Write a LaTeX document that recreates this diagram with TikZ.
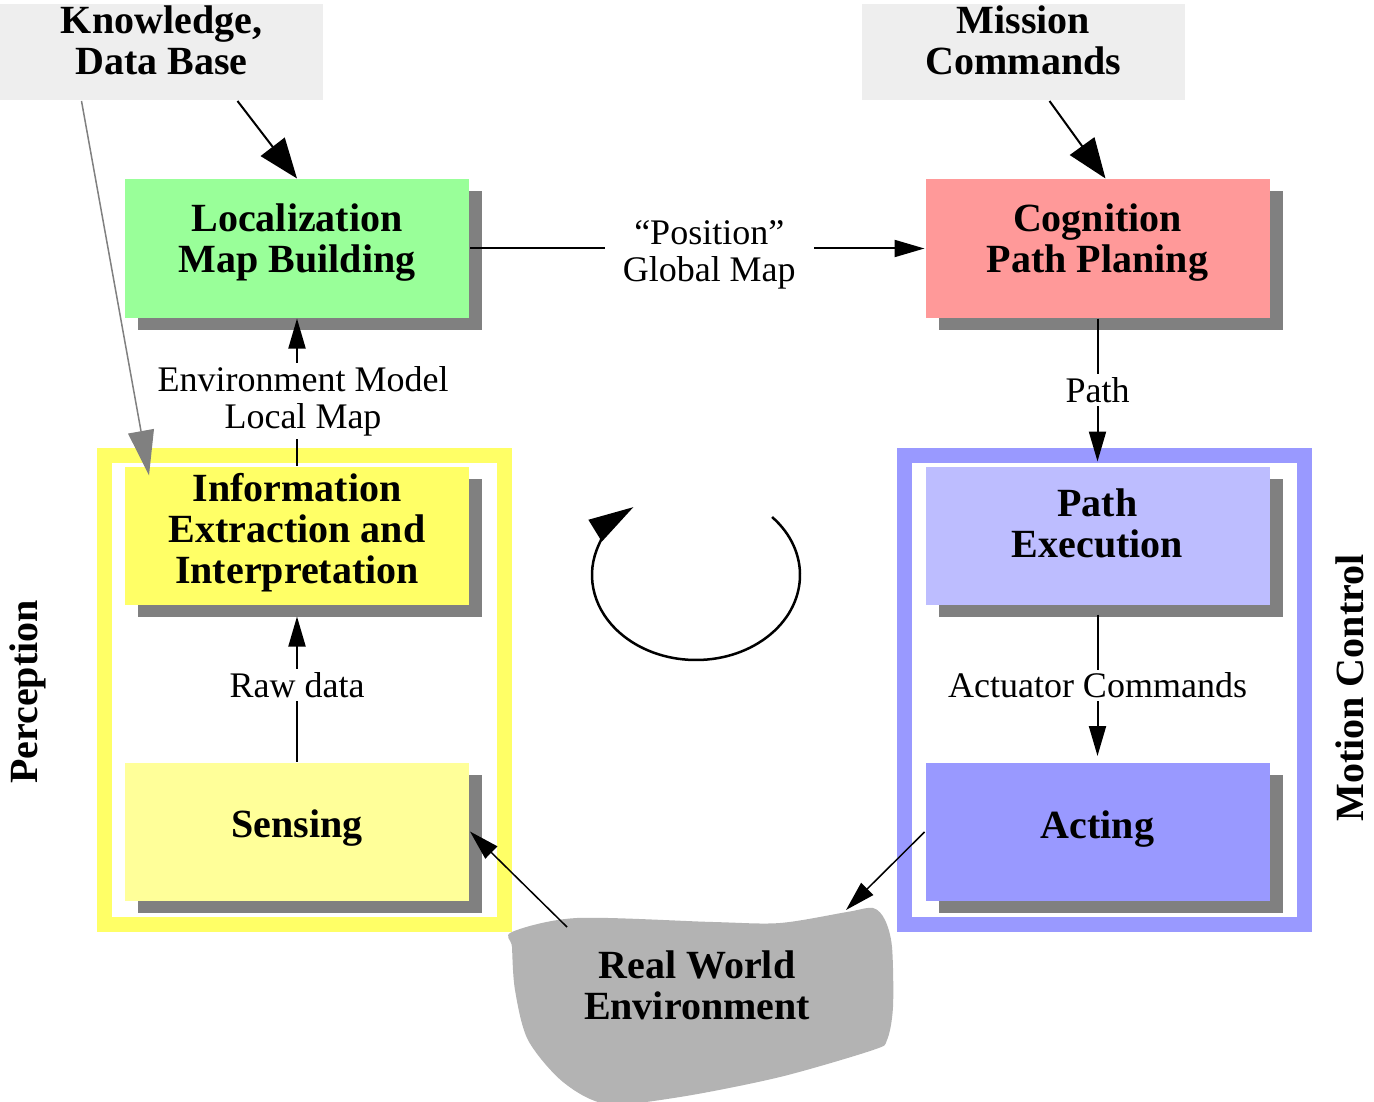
\documentclass[tikz,border=0pt]{standalone}
\usepackage{fontspec}
\setmainfont{Liberation Serif}
\usetikzlibrary{arrows.meta, shadows}

\definecolor{kbgray}{HTML}{EEEEEE}
\definecolor{locgreen}{HTML}{99FF99}
\definecolor{cogred}{HTML}{FF9999}
\definecolor{infoyellow}{HTML}{FFFF66}
\definecolor{senseyellow}{HTML}{FFFF99}
\definecolor{execblue}{HTML}{BDBDFF}
\definecolor{actblue}{HTML}{9999FF}
\definecolor{shadowgray}{HTML}{808080}
\definecolor{worldgray}{HTML}{B3B3B3}

\begin{document}
\begin{tikzpicture}[x=1pt, y=-1pt, line width=2pt,
    bigfont/.style={font=\fontsize{40}{41}\selectfont\bfseries},
    blocktext/.style={bigfont, align=center},
    block/.style={inner sep=0pt, minimum width=344pt, minimum height=138pt,
      general shadow={fill=shadowgray, shadow xshift=13pt, shadow yshift=-12pt}},
    inbox/.style={inner sep=0pt, minimum width=323pt, minimum height=96pt, fill=kbgray},
    flowlabel/.style={fill=white, inner sep=3pt, align=center, font=\fontsize{36}{37}\selectfont},
    tip/.style={-{Triangle[length=30pt, width=17pt]}},
    bigtip/.style={-{Triangle[length=40pt, width=30pt]}}]
    \useasboundingbox (0, 0) rectangle (1374, 1102);

    % draw the two frames
    \draw[infoyellow, line width=15pt] (104, 455.5) rectangle (504, 924);
    \draw[actblue, line width=15pt] (904.5, 455) rectangle (1304.5, 924);

    % draw inputs
    \node[inbox, label={[blocktext, yshift=12pt]center:{Knowledge,\\Data Base}}] (know) at (161.5, 52) {};
    \node[inbox, label={[blocktext, yshift=12pt]center:{Mission\\Commands}}] (mission) at (1023.5, 52) {};

    % draw blocks
    \node[block, fill=locgreen, label={[blocktext, yshift=6pt]center:{Localization\\Map Building}}] (loc) at (297, 248.5) {};
    \node[block, fill=cogred, label={[blocktext, yshift=6pt]center:{Cognition\\Path Planing}}] (cog) at (1097.5, 248.5) {};
    \node[block, fill=infoyellow, label={[blocktext, yshift=3pt]center:{Information\\Extraction and\\Interpretation}}] (info) at (297, 535.5) {};
    \node[block, fill=senseyellow, label={[blocktext, yshift=3pt]center:Sensing}] (sense) at (297, 831.5) {};
    \node[block, fill=execblue, label={[blocktext, yshift=12pt]center:{Path\\Execution}}] (exec) at (1097.5, 535.5) {};
    \node[block, fill=actblue, label={[blocktext, yshift=3pt]center:Acting}] (act) at (1097.5, 832) {};

    % draw real world blob
    \fill[worldgray] plot[smooth cycle, tension=0.5] coordinates {
      (512, 932) (577, 918) (713, 922) (780, 923) (847, 912) (873, 908) (885, 920)
      (892, 947) (893, 1007) (887, 1040) (873, 1050) (780, 1077) (680, 1097)
      (607, 1104) (563, 1082) (528, 1040) (515, 990) (512, 947)};
    \coordinate (wtl) at (567, 927);
    \coordinate (wtr) at (846, 910);
    \node[blocktext] (world) at (697, 985) {Real World\\Environment};

    % draw side labels
    \node[bigfont, rotate=90] (perc) at (28, 692) {Perception};
    \node[bigfont, rotate=90] (motion) at (1350, 688) {Motion Control};

    % draw connectors
    \draw[bigtip] ([xshift=76pt]know.south) -- (loc.north);
    \draw[bigtip] ([xshift=26pt]mission.south) -- ([xshift=8pt]cog.north);
    \draw[shadowgray, line width=1.5pt, -{Triangle[length=45pt, width=26pt]}]
      ([xshift=-80pt]know.south) -- ([xshift=25pt, yshift=-10pt]info.north west);
    \draw[tip] (loc.east) -- node[flowlabel, inner xsep=18pt, xshift=12pt, yshift=-6pt] {“Position”\\Global Map} (cog.west);
    \draw[tip] (info.north) -- node[flowlabel, xshift=6pt, yshift=-9pt] {Environment Model\\Local Map} (loc.south);
    \draw[tip] (sense.north) -- node[flowlabel, yshift=4pt] {Raw data} ([yshift=-11pt]info.south);
    \draw[tip] (cog.south) -- node[flowlabel] {Path} ([yshift=4pt]exec.north);
    \draw[tip] ([yshift=-9pt]exec.south) -- node[flowlabel] {Actuator Commands} ([yshift=6pt]act.north);
    \draw[tip, line width=1.5pt] (wtl) -- (sense.east);
    \draw[tip, line width=1.5pt] (act.west) -- (wtr);

    % draw the loop arrow
    \draw[line width=2.5pt, -{Triangle[length=45pt, width=25pt]}]
      (696, 575) ++(-43 : 104 and 85) arc [start angle=-43, end angle=233, x radius=104, y radius=85];
\end{tikzpicture}
\end{document}
